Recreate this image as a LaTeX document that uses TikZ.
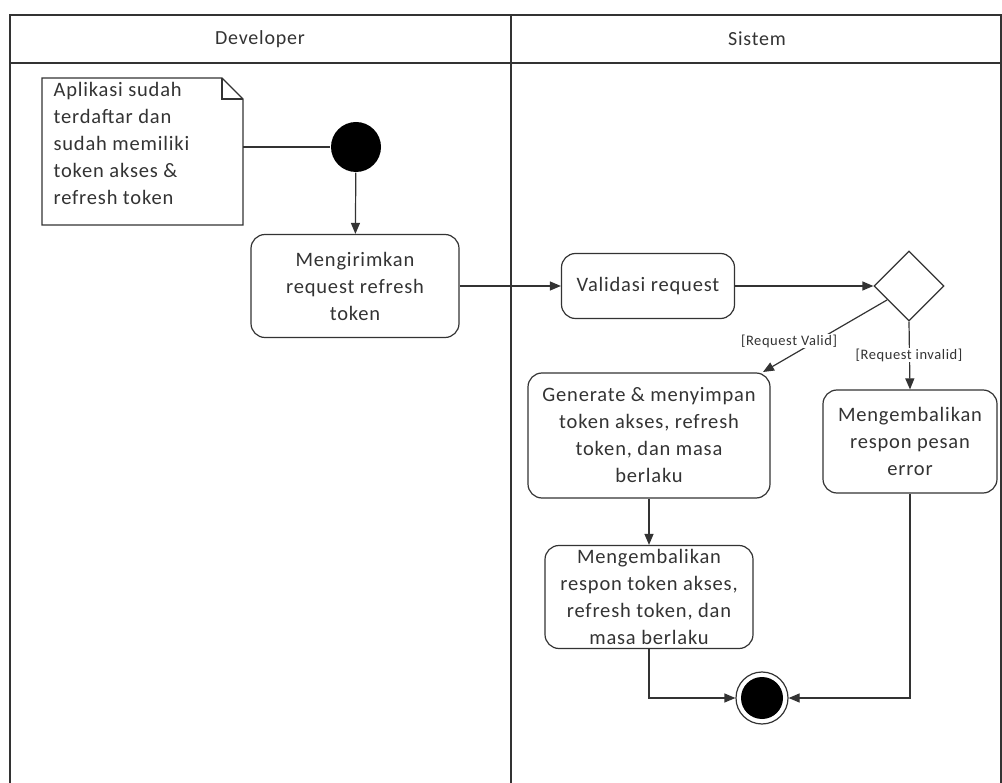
\documentclass[tikz,border=0pt]{standalone}
\usepackage{fontspec}
\setmainfont{Carlito}[LetterSpace=4]
\usetikzlibrary{arrows.meta,shapes.geometric}
\definecolor{ink}{HTML}{333333}
\begin{document}
\begin{tikzpicture}[x=1pt,y=-1pt,
  line width=1.2pt,
  every node/.style={text=ink},
  bodyfont/.style={font=\fontsize{20.5}{27}\selectfont},
  flow/.style={draw=ink,-{Triangle[length=11pt,width=9pt]}},
  plain/.style={draw=ink},
  actbox/.style={draw=ink,rounded corners=14pt,align=center,bodyfont,inner sep=0pt},
  lanehead/.style={font=\fontsize{20}{24}\selectfont},
  guard/.style={font=\fontsize{14.5}{16}\selectfont,fill=white,inner sep=1pt}]
\useasboundingbox (0,0) rectangle (1002,783);
% swimlanes
\draw[ink] (10,783) -- (10,15) -- (1001,15) -- (1001,783);
\draw[ink] (10,63) -- (1001,63);
\draw[ink] (511,15) -- (511,783);
\node[lanehead] (hdev) at (260,39) {Developer};
\node[lanehead] (hsys) at (757,39) {Sistem};
% note with folded corner
\draw[ink,fill=white] (42,78) -- (222,78) -- (243,99) -- (243,225) -- (42,225) -- cycle;
\draw[ink] (222,78) -- (222,99) -- (243,99);
\node[anchor=north west,align=left,bodyfont,inner sep=0pt] (note) at (53,82)
  {Aplikasi sudah\\terdaftar dan\\sudah memiliki\\token akses \&\\refresh token};
\coordinate (noteR) at (243,147);
% start node
\node[circle,fill=black,minimum size=50pt,inner sep=0pt] (start) at (356,147) {};
\draw[plain] (noteR) -- (start);
% actions
\node[actbox,minimum width=208pt,minimum height=103pt] (kirim) at (355,286) {Mengirimkan\\request refresh\\token};
\node[actbox,minimum width=173pt,minimum height=65pt] (valid) at (648,286) {Validasi request};
\node[diamond,draw=ink,minimum width=70pt,minimum height=70pt,inner sep=0pt,aspect=1] (dec) at (909,286) {};
\node[actbox,minimum width=242pt,minimum height=125pt] (gen) at (649,435.5) {Generate \& menyimpan\\token akses, refresh\\token, dan masa\\berlaku};
\node[actbox,minimum width=208pt,minimum height=103pt] (resp) at (649,597) {Mengembalikan\\respon token akses,\\refresh token, dan\\masa berlaku};
\node[actbox,minimum width=174pt,minimum height=103pt] (err) at (910,441.5) {Mengembalikan\\respon pesan\\error};
% final node
\node[circle,draw=ink,line width=1.2pt,minimum size=52pt,inner sep=0pt] (fin) at (762,698) {};
\node[circle,fill=black,minimum size=42pt,inner sep=0pt] (finin) at (fin.center) {};
% flows
\draw[flow] (start) -- (kirim);
\draw[flow] (kirim) -- (valid);
\draw[flow] (valid) -- (dec);
\coordinate (dv) at (887,300);
\coordinate (gv) at (763,372);
\draw[flow] (dv) -- (gv);
\draw[flow] (dec.south) -- (err.north);
\draw[flow] (gen.south -| resp.north) -- (resp.north);
\draw[flow] (resp.south) |- (fin.west);
\draw[flow] (err.south) |- (fin.east);
\node[guard] (gvalid) at (789,341) {[Request Valid]};
\node[guard] (ginvalid) at (909,355) {[Request invalid]};
\end{tikzpicture}
\end{document}
